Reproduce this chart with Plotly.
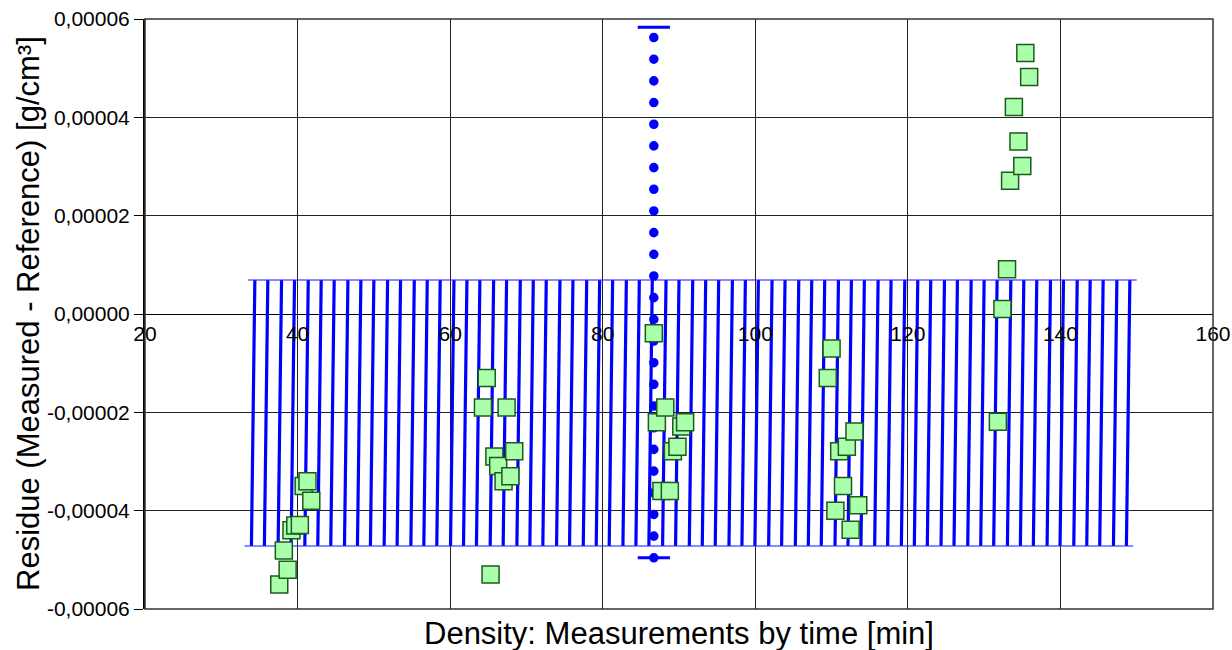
import plotly.graph_objects as go

# ---- data -------------------------------------------------------------
# measurement times [min] and density residues (measured - reference) [g/cm³]
sample_time = [
    37.6, 38.2, 38.7, 39.2, 39.7, 40.3, 40.8, 41.3, 41.8,
    64.3, 64.8, 65.3, 65.8, 66.3, 67.0, 67.4, 67.9, 68.4,
    86.7, 87.1, 87.7, 88.2, 88.8, 89.2, 89.8, 90.3, 90.8,
    109.5, 110.0, 110.5, 111.0, 111.5, 112.0, 112.5, 113.0, 113.5,
    131.8, 132.4, 133.0, 133.4, 133.9, 134.5, 135.0, 135.4, 135.9,
]
residue = [
    -5.50e-5, -4.81e-5, -5.20e-5, -4.40e-5, -4.30e-5, -4.29e-5, -3.50e-5, -3.40e-5, -3.80e-5,
    -1.90e-5, -1.30e-5, -5.30e-5, -2.90e-5, -3.09e-5, -3.40e-5, -1.90e-5, -3.30e-5, -2.79e-5,
    -0.39e-5, -2.20e-5, -3.60e-5, -1.90e-5, -3.60e-5, -2.79e-5, -2.70e-5, -2.29e-5, -2.20e-5,
    -1.30e-5, -0.70e-5, -4.00e-5, -2.79e-5, -3.50e-5, -2.70e-5, -4.39e-5, -2.39e-5, -3.89e-5,
    -2.19e-5, 0.10e-5, 0.91e-5, 2.71e-5, 4.21e-5, 3.51e-5, 3.01e-5, 5.31e-5, 4.82e-5,
]

# tolerance band: limits and the time grid it is drawn on
band_upper = 0.69e-5
band_lower = -4.72e-5
band_time = [
    34.4, 36.1, 37.9, 39.6, 41.4, 43.1, 44.8, 46.6, 48.3, 50.0,
    51.8, 53.5, 55.3, 57.0, 58.7, 60.5, 62.2, 63.9, 65.7, 67.4,
    69.2, 70.9, 72.6, 74.4, 76.1, 77.9, 79.6, 81.3, 83.1, 84.8,
    86.5, 88.3, 90.0, 91.8, 93.5, 95.2, 97.0, 98.7, 100.4, 102.2,
    103.9, 105.7, 107.4, 109.1, 110.9, 112.6, 114.3, 116.1, 117.8, 119.6,
    121.3, 123.0, 124.8, 126.5, 128.3, 130.0, 131.7, 133.5, 135.2, 136.9,
    138.7, 140.4, 142.2, 143.9, 145.6, 147.4, 149.1,
]

# overall residue range marker
range_time = 86.7
range_low = -4.96e-5
range_high = 5.83e-5
range_dot_step = 0.441e-5

# axis ticks
x_ticks = [20, 40, 60, 80, 100, 120, 140, 160]
y_tick_vals = [-6e-5, -4e-5, -2e-5, 0, 2e-5, 4e-5, 6e-5]
y_tick_text = ["-0,00006", "-0,00004", "-0,00002", "0,00000", "0,00002", "0,00004", "0,00006"]

# ---- style / geometry ---------------------------------------------------
W, H = 1232, 650
M_L, M_R, M_T, M_B = 145, 19, 19, 41
Y_MIN, Y_MAX = -6e-5, 6e-5
FONT = "Liberation Sans, Arial, sans-serif"
BLUE = "#0000ff"
band_slant = 0.45   # horizontal drift of each band stroke from top to bottom [min]
band_pad = 0.9      # overhang of the band edges past the outer strokes [min]

plot_h_px = H - M_T - M_B
dot_period_px = range_dot_step / (Y_MAX - Y_MIN) * plot_h_px

fig = go.Figure()

# band strokes (one segment per grid time)
seg_x, seg_y = [], []
for t in band_time:
    seg_x += [t, t - band_slant, None]
    seg_y += [band_upper, band_lower, None]
fig.add_trace(go.Scatter(x=seg_x, y=seg_y, mode="lines",
                         line=dict(color=BLUE, width=3.2), hoverinfo="skip"))

# band edges
fig.add_trace(go.Scatter(
    x=[band_time[0] - band_pad, band_time[-1] + band_pad], y=[band_upper, band_upper],
    mode="lines", line=dict(color="rgba(40,40,255,0.55)", width=2), hoverinfo="skip"))
fig.add_trace(go.Scatter(
    x=[band_time[0] - band_pad - band_slant, band_time[-1] + band_pad - band_slant],
    y=[band_lower, band_lower],
    mode="lines", line=dict(color="rgba(40,40,255,0.55)", width=2), hoverinfo="skip"))

# dotted range line with end caps
fig.add_trace(go.Scatter(
    x=[range_time, range_time], y=[range_low, range_high], mode="lines",
    line=dict(color=BLUE, width=9.5, dash=f"0.1px,{dot_period_px - 0.1:.2f}px"),
    hoverinfo="skip"))
fig.add_trace(go.Scatter(
    x=[range_time, range_time], y=[range_low, range_high], mode="markers",
    marker=dict(symbol="line-ew", size=23, line=dict(color=BLUE, width=3)),
    hoverinfo="skip"))

# residues
fig.add_trace(go.Scatter(
    x=sample_time, y=residue, mode="markers",
    marker=dict(symbol="square", size=17, color="#aaffaa",
                line=dict(color="#1e5a1e", width=1.5)),
    name="Residue"))

fig.update_layout(
    width=W, height=H,
    margin=dict(l=M_L, r=M_R, t=M_T, b=M_B, autoexpand=False),
    paper_bgcolor="white", plot_bgcolor="white",
    showlegend=False,
    font=dict(family=FONT, color="black", size=21),
    xaxis=dict(
        range=[20, 160], tickvals=x_ticks, ticktext=[str(v) for v in x_ticks],
        showgrid=True, gridcolor="#222", gridwidth=1,
        zeroline=False, showline=False,
        anchor="free", position=0.5, automargin=False,
        ticks="", ticklabelstandoff=5,
        tickfont=dict(size=21), fixedrange=True,
    ),
    yaxis=dict(
        range=[Y_MIN, Y_MAX], tickvals=y_tick_vals, ticktext=y_tick_text,
        showgrid=True, gridcolor="#222", gridwidth=1,
        zeroline=True, zerolinecolor="black", zerolinewidth=1,
        showline=True, linecolor="black", linewidth=2, automargin=False,
        ticks="outside", ticklen=9, tickcolor="black", tickwidth=1,
        tickfont=dict(size=21), fixedrange=True,
    ),
    shapes=[dict(type="rect", xref="x domain", yref="y domain", x0=0, x1=1, y0=0, y1=1,
                 line=dict(color="#333", width=1.5), layer="above")],
    annotations=[
        dict(text="Density: Measurements by time [min]", xref="paper", yref="paper",
             x=0.5, y=0, yshift=-24, xanchor="center", yanchor="middle",
             showarrow=False, font=dict(size=31)),
        dict(text="Residue (Measured - Reference) [g/cm³]", xref="paper", yref="paper",
             x=0, xshift=-117, y=0.5, xanchor="center", yanchor="middle", textangle=-90,
             showarrow=False, font=dict(size=31)),
    ],
)

round_dots = (
    "document.querySelectorAll('path.js-line').forEach(function(p){"
    "if((p.style.strokeDasharray||'').indexOf('0.1px')>=0){p.style.strokeLinecap='round';}"
    "});"
)
fig.write_html("out.html", post_script=round_dots, config={"staticPlot": True})
